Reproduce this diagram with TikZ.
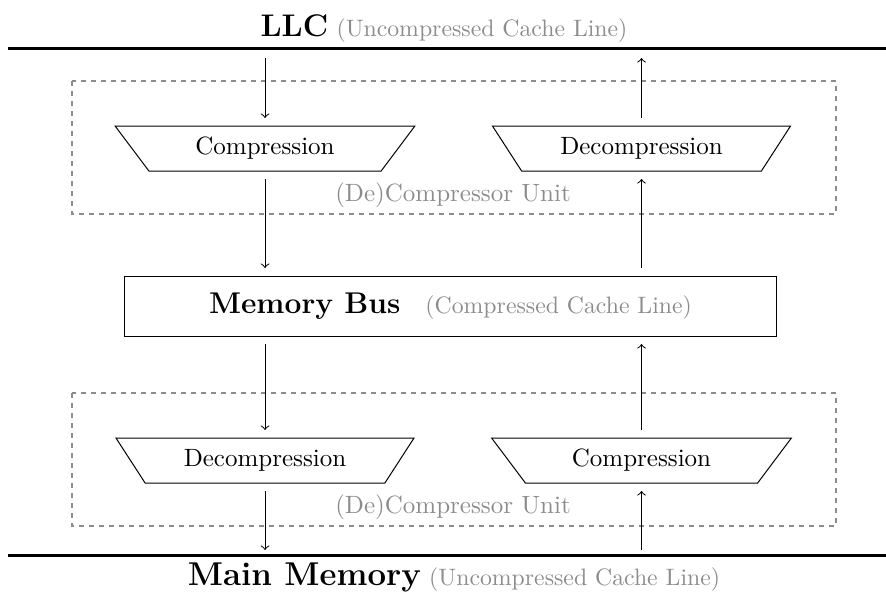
\documentclass[tikz,border=0pt]{standalone}
\usetikzlibrary{shapes.geometric,positioning}
\tikzset{
  unitbox/.style={draw=black!45,dash pattern=on 2pt off 2pt,semithick},
  trap/.style={draw,trapezium,trapezium stretches=true,shape border rotate=180,
    trapezium angle=48,minimum width=120pt,minimum height=18pt,inner sep=0pt},
  note/.style={text=black!45},
  layer/.style={very thick},
  gap/.style={->,shorten <=3pt,shorten >=3pt},
}
\newcommand{\headfont}[1]{{\fontsize{#1}{16}\selectfont\bfseries}}
\newcommand{\graytext}[1]{{\fontsize{9.5}{12}\selectfont\color{black!45}#1}}
\begin{document}
\begin{tikzpicture}[x=0.4pt,y=-0.4pt,>=to]
\useasboundingbox (0,0) rectangle (886,593);
% LLC and main memory
\coordinate (llcL) at (8,48);
\coordinate (llcR) at (886,48);
\coordinate (memL) at (8,555);
\coordinate (memR) at (886,555);
\draw[layer] (llcL) -- (llcR);
\draw[layer] (memL) -- (memR);
\node[anchor=base] (llc) at (444,36) {{\fontsize{12.5}{16}\selectfont\bfseries LLC} \graytext{(Uncompressed Cache Line)}};
\node[anchor=base] (mem) at (454,585) {{\fontsize{13.2}{16}\selectfont\bfseries Main Memory} \graytext{(Uncompressed Cache Line)}};
% (de)compressor units
\draw[unitbox] (72,81) rectangle (836,214);
\draw[unitbox] (72,393) rectangle (836,526);
\node[note] (unitA) at (453,195) {(De)Compressor Unit};
\node[note] (unitB) at (453,507) {(De)Compressor Unit};
\node[trap] (compA) at (265,148.5) {Compression};
\node[trap] (decompA) at (641.5,148.5) {Decompression};
\node[trap] (decompB) at (265,460.5) {Decompression};
\node[trap] (compB) at (641.5,460.5) {Compression};
% memory bus
\node[draw,minimum width=260.4pt,minimum height=24pt] (bus) at (450.5,306)
  {\textbf{\large Memory Bus}\quad\graytext{(Compressed Cache Line)}};
% arrows
\coordinate (llcA) at (compA.north |- llcL);
\coordinate (llcB) at (decompA.north |- llcL);
\coordinate (memA) at (decompB.south |- memL);
\coordinate (memB) at (compB.south |- memL);
\draw[gap,shorten <=4pt] (llcA) -- (compA.north);
\draw[gap] (compA.south) -- (compA.south |- bus.north);
\draw[gap] (bus.south -| decompB.north) -- (decompB.north);
\draw[gap,shorten >=2pt] (decompB.south) -- (memA);
\draw[gap,shorten <=2pt] (memB) -- (compB.south);
\draw[gap] (compB.north) -- (compB.north |- bus.south);
\draw[gap] (bus.north -| decompA.south) -- (decompA.south);
\draw[gap,shorten >=4pt] (decompA.north) -- (llcB);
\end{tikzpicture}
\end{document}
